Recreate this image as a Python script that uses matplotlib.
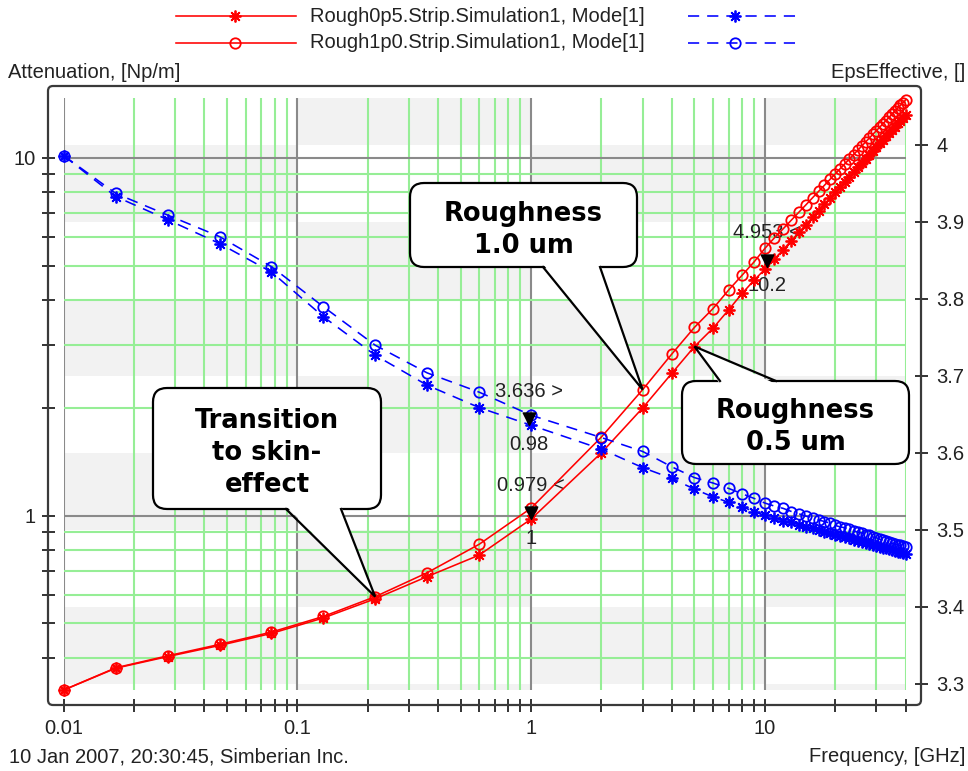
import matplotlib
matplotlib.use("Agg")
import matplotlib.pyplot as plt
from matplotlib.patches import FancyBboxPatch, Polygon, Rectangle
from matplotlib.lines import Line2D
from matplotlib.path import Path
from matplotlib.ticker import FixedLocator, FixedFormatter, NullFormatter

plt.rcParams['font.family'] = ['Liberation Sans', 'DejaVu Sans']

# ---------------- data ----------------
freq = [0.01, 0.0167, 0.0278, 0.0464, 0.0774, 0.129, 0.215, 0.359, 0.599, 1,
        2, 3, 4, 5, 6, 7, 8, 9, 10, 11, 12, 13, 14, 15, 16, 17, 18, 19, 20,
        21, 22, 23, 24, 25, 26, 27, 28, 29, 30, 31, 32, 33, 34, 35, 36, 37, 38, 39, 40]

# Attenuation [Np/m] (left axis)
att_r05 = [0.326, 0.375, 0.404, 0.434, 0.469, 0.518, 0.586, 0.676, 0.776, 0.979,
           1.50, 2.00, 2.50, 2.97, 3.34, 3.76, 4.18, 4.55, 4.88, 5.21, 5.54, 5.87, 6.19, 6.51,
           6.82, 7.12, 7.42, 7.72, 8.01, 8.29, 8.57, 8.85, 9.13, 9.40, 9.67, 9.94, 10.20,
           10.46, 10.72, 10.98, 11.23, 11.48, 11.73, 11.98, 12.22, 12.47, 12.71, 12.95, 13.19]
att_r10 = [0.326, 0.376, 0.406, 0.437, 0.473, 0.523, 0.594, 0.693, 0.832, 1.05,
           1.66, 2.25, 2.83, 3.36, 3.79, 4.27, 4.70, 5.12, 5.58, 5.98, 6.34, 6.70, 7.05, 7.39,
           7.73, 8.06, 8.38, 8.70, 9.01, 9.32, 9.62, 9.92, 10.21, 10.50, 10.79, 11.07, 11.35,
           11.63, 11.90, 12.17, 12.44, 12.71, 12.97, 13.23, 13.49, 13.75, 14.00, 14.25, 14.50]

# EpsEffective (right axis)
eps_r05 = [3.986, 3.933, 3.903, 3.872, 3.835, 3.777, 3.727, 3.688, 3.659, 3.636,
           3.605, 3.581, 3.567, 3.553, 3.543, 3.536, 3.530, 3.524, 3.519, 3.516, 3.512, 3.510,
           3.507, 3.504, 3.502, 3.500, 3.498, 3.496, 3.494, 3.492, 3.491, 3.489, 3.487, 3.486,
           3.485, 3.483, 3.482, 3.481, 3.479, 3.478, 3.477, 3.476, 3.475, 3.474, 3.473, 3.472,
           3.471, 3.470, 3.469]
eps_r10 = [3.986, 3.937, 3.909, 3.881, 3.842, 3.790, 3.740, 3.704, 3.679, 3.649,
           3.620, 3.602, 3.582, 3.568, 3.561, 3.554, 3.547, 3.541, 3.535, 3.531, 3.528, 3.524,
           3.521, 3.518, 3.516, 3.513, 3.511, 3.509, 3.506, 3.504, 3.503, 3.501, 3.499, 3.497,
           3.496, 3.494, 3.493, 3.491, 3.490, 3.488, 3.487, 3.486, 3.485, 3.483, 3.482, 3.481,
           3.480, 3.479, 3.478]

series_names = ["Rough0p5.Strip.Simulation1, Mode[1]", "Rough1p0.Strip.Simulation1, Mode[1]"]

# measurement markers: (freq, value, axis, value label, freq label)
mk_freq = [1, 0.98, 10.2]
mk_val = [0.979, 3.636, 4.953]
mk_axis = ['left', 'right', 'left']
mk_top = ['0.979 <', '3.636 >', '4.953 <']
mk_bot = ['1', '0.98', '10.2']

x_ticks = [0.01, 0.1, 1, 10]
x_ticklabels = ['0.01', '0.1', '1', '10']
yl_ticks = [1, 10]
yl_ticklabels = ['1', '10']
yr_ticks = [3.3, 3.4, 3.5, 3.6, 3.7, 3.8, 3.9, 4.0]
yr_ticklabels = ['3.3', '3.4', '3.5', '3.6', '3.7', '3.8', '3.9', '4']

# ---------------- layout ----------------
W, H = 968, 771
fig = plt.figure(figsize=(W / 100, H / 100), dpi=100)
fig.patch.set_facecolor('white')

def pt(px):
    return px * 72.0 / 100.0

L, R, T, B = 63.8, 905.5, 98.0, 690.0
ax = fig.add_axes([L / W, 1 - B / H, (R - L) / W, (B - T) / H])
ax2 = ax.twinx()

ax.set_xscale('log')
ax.set_yscale('log')
ax.set_xlim(0.01, 40)
ax.set_ylim(0.3259, 14.69)
ax2.set_ylim(3.2922, 4.061)

TXT = '#222222'
GREEN = '#96ee96'
GRAYL = '#8a8a8a'

# ticks
ax.xaxis.set_major_locator(FixedLocator(x_ticks))
ax.xaxis.set_major_formatter(FixedFormatter(x_ticklabels))
xminor = [m * 10.0 ** e for e in (-2, -1, 0, 1) for m in range(2, 10) if m * 10.0 ** e <= 40]
ax.xaxis.set_minor_locator(FixedLocator(xminor))
ax.xaxis.set_minor_formatter(NullFormatter())

ax.yaxis.set_major_locator(FixedLocator(yl_ticks))
ax.yaxis.set_major_formatter(FixedFormatter(yl_ticklabels))
yminor = [m * 10.0 ** e for e in (-1, 0) for m in range(2, 10) if 0.33 < m * 10.0 ** e < 14.6]
ax.yaxis.set_minor_locator(FixedLocator(yminor))
ax.yaxis.set_minor_formatter(NullFormatter())

ax2.yaxis.set_major_locator(FixedLocator(yr_ticks))
ax2.yaxis.set_major_formatter(FixedFormatter(yr_ticklabels))
ax2.yaxis.set_minor_locator(FixedLocator([]))

for a in (ax, ax2):
    for s in a.spines.values():
        s.set_visible(False)
ax.spines['left'].set_position(('outward', pt(15.8)))
ax.spines['bottom'].set_position(('outward', pt(15.0)))
ax2.spines['right'].set_position(('outward', pt(15.5)))

tkw = dict(direction='inout', length=pt(13), width=1.4, color='#333333',
           labelcolor=TXT, labelsize=14.5)
ax.tick_params(axis='x', which='both', pad=pt(7), **tkw)
ax.tick_params(axis='y', which='both', pad=pt(6), **tkw)
ax2.tick_params(axis='y', which='both', pad=pt(9), **tkw)

# grid
ax.set_axisbelow(True)
ax.grid(True, which='minor', axis='both', color=GREEN, lw=1.5)
ax.grid(True, which='major', axis='both', color=GRAYL, lw=1.5)
ax.set_facecolor('white')

# checkerboard bands (decade columns x EpsEffective rows)
cols = [(0.01, 0.1), (0.1, 1), (1, 10), (10, 40)]
rows = [(3.2922, 3.3), (3.3, 3.4), (3.4, 3.5), (3.5, 3.6), (3.6, 3.7), (3.7, 3.8),
        (3.8, 3.9), (3.9, 4.0), (4.0, 4.061)]
for ci, (x0, x1) in enumerate(cols):
    for ri, (e0, e1) in enumerate(rows):
        if (ri - 1 + ci) % 2 == 0:
            ax.add_patch(Rectangle((x0, e0), x1 - x0, e1 - e0, transform=ax2.transData,
                                   fc='#f2f2f2', ec='none', zorder=0.2))

# data
AST = (8, 2, 0)
LW = 1.15
MEW = 1.3
ax.plot(freq, att_r05, color='red', lw=LW, marker=AST, ms=8.5, mew=MEW,
        clip_on=False, zorder=3)
ax.plot(freq, att_r10, color='red', lw=LW, marker='o', ms=7.5, mfc='none', mew=MEW,
        clip_on=False, zorder=3)
DASH = (0, (7, 5))
ax2.plot(freq, eps_r05, color='blue', lw=LW, ls=DASH, marker=AST, ms=8.5, mew=MEW,
         clip_on=False, zorder=3)
ax2.plot(freq, eps_r10, color='blue', lw=LW, ls=DASH, marker='o', ms=7.5, mfc='none',
         mew=MEW, clip_on=False, zorder=3)

# measurement markers
tri = Path([(-0.5, 1.0), (0.5, 1.0), (0.0, 0.0), (-0.5, 1.0)],
           [Path.MOVETO, Path.LINETO, Path.LINETO, Path.CLOSEPOLY])
for f, v, side, tt, tb in zip(mk_freq, mk_val, mk_axis, mk_top, mk_bot):
    a = ax if side == 'left' else ax2
    a.plot([f], [v], marker=tri, ms=18, color='black', mec='black', ls='none', zorder=4)
    a.annotate(tt, xy=(f, v), xytext=(0, 34), textcoords='offset pixels', ha='center',
               va='center', fontsize=14.5, color=TXT, zorder=2)
    a.annotate(tb, xy=(f, v), xytext=(0, -19), textcoords='offset pixels', ha='center',
               va='center', fontsize=14.5, color=TXT, zorder=2)

# ---------------- overlay (pixel coords) ----------------
ov = fig.add_axes([0, 0, 1, 1], zorder=10)
ov.set_xlim(0, W)
ov.set_ylim(H, 0)
ov.axis('off')
ov.patch.set_alpha(0)

# chart frame
ov.add_patch(FancyBboxPatch((48, 86), 873, 619, boxstyle='round,pad=0,rounding_size=5',
                            fc='none', ec='#3a3a3a', lw=1.6, zorder=1))

def to_ov(a, x, y):
    d = a.transData.transform((x, y))
    return d[0], H - d[1]

def callout(x0, y0, x1, y1, bx, edge, tip, text):
    ov.add_patch(FancyBboxPatch((x0, y0), x1 - x0, y1 - y0,
                                boxstyle='round,pad=0,rounding_size=14',
                                fc='white', ec='black', lw=1.6, zorder=20))
    ey = y1 if edge == 'bottom' else y0
    inset = -3 if edge == 'bottom' else 3
    ov.add_patch(Polygon([(bx[0], ey + inset), tip, (bx[1], ey + inset)], closed=True,
                         fc='white', ec='none', zorder=21))
    ov.add_line(Line2D([bx[0], tip[0], bx[1]], [ey, tip[1], ey], color='black', lw=1.6,
                       zorder=22, solid_joinstyle='miter'))
    ov.text((x0 + x1) / 2, (y0 + y1) / 2 + 5, text, ha='center', va='center',
            fontsize=18.5, fontweight='bold', family='DejaVu Sans', linespacing=1.3,
            color='black', zorder=23)

i_tr = freq.index(0.215)
i_3 = freq.index(3)
i_5 = freq.index(5)
callout(153, 388, 381, 509, (286, 341), 'bottom', to_ov(ax, freq[i_tr], att_r10[i_tr]),
        'Transition\nto skin-\neffect')
callout(410, 183, 637, 267, (543, 600), 'bottom', to_ov(ax, freq[i_3], att_r10[i_3]),
        'Roughness\n1.0 um')
callout(682, 381, 909, 464, (720, 776), 'top', to_ov(ax, freq[i_5], att_r05[i_5]),
        'Roughness\n0.5 um')

# legend
for yy, name, mkr in [(16, series_names[0], AST), (43, series_names[1], 'o')]:
    ms = 8.5 if mkr == AST else 7.5
    ov.add_line(Line2D([176, 235, 296], [yy] * 3, color='red', lw=LW, marker=mkr, ms=ms,
                       mfc='none' if mkr == 'o' else 'red', mew=MEW, markevery=[1]))
    ov.text(310, yy, name, ha='left', va='center', fontsize=14.5, color=TXT)
    ov.add_line(Line2D([688, 735, 802], [yy] * 3, color='blue', lw=LW, ls=DASH, marker=mkr,
                       ms=ms, mfc='none' if mkr == 'o' else 'blue', mew=MEW, markevery=[1]))

# axis titles
ov.text(8, 72, 'Attenuation, [Np/m]', ha='left', va='center', fontsize=14.5, color=TXT)
ov.text(965, 72, 'EpsEffective, []', ha='right', va='center', fontsize=14.5, color=TXT)
ov.text(9, 757, '10 Jan 2007, 20:30:45, Simberian Inc.', ha='left', va='center',
        fontsize=14.5, color=TXT)
ov.text(965, 757, 'Frequency, [GHz]', ha='right', va='center', fontsize=14.5, color=TXT)

fig.savefig('out.png', dpi=100, facecolor='white')
